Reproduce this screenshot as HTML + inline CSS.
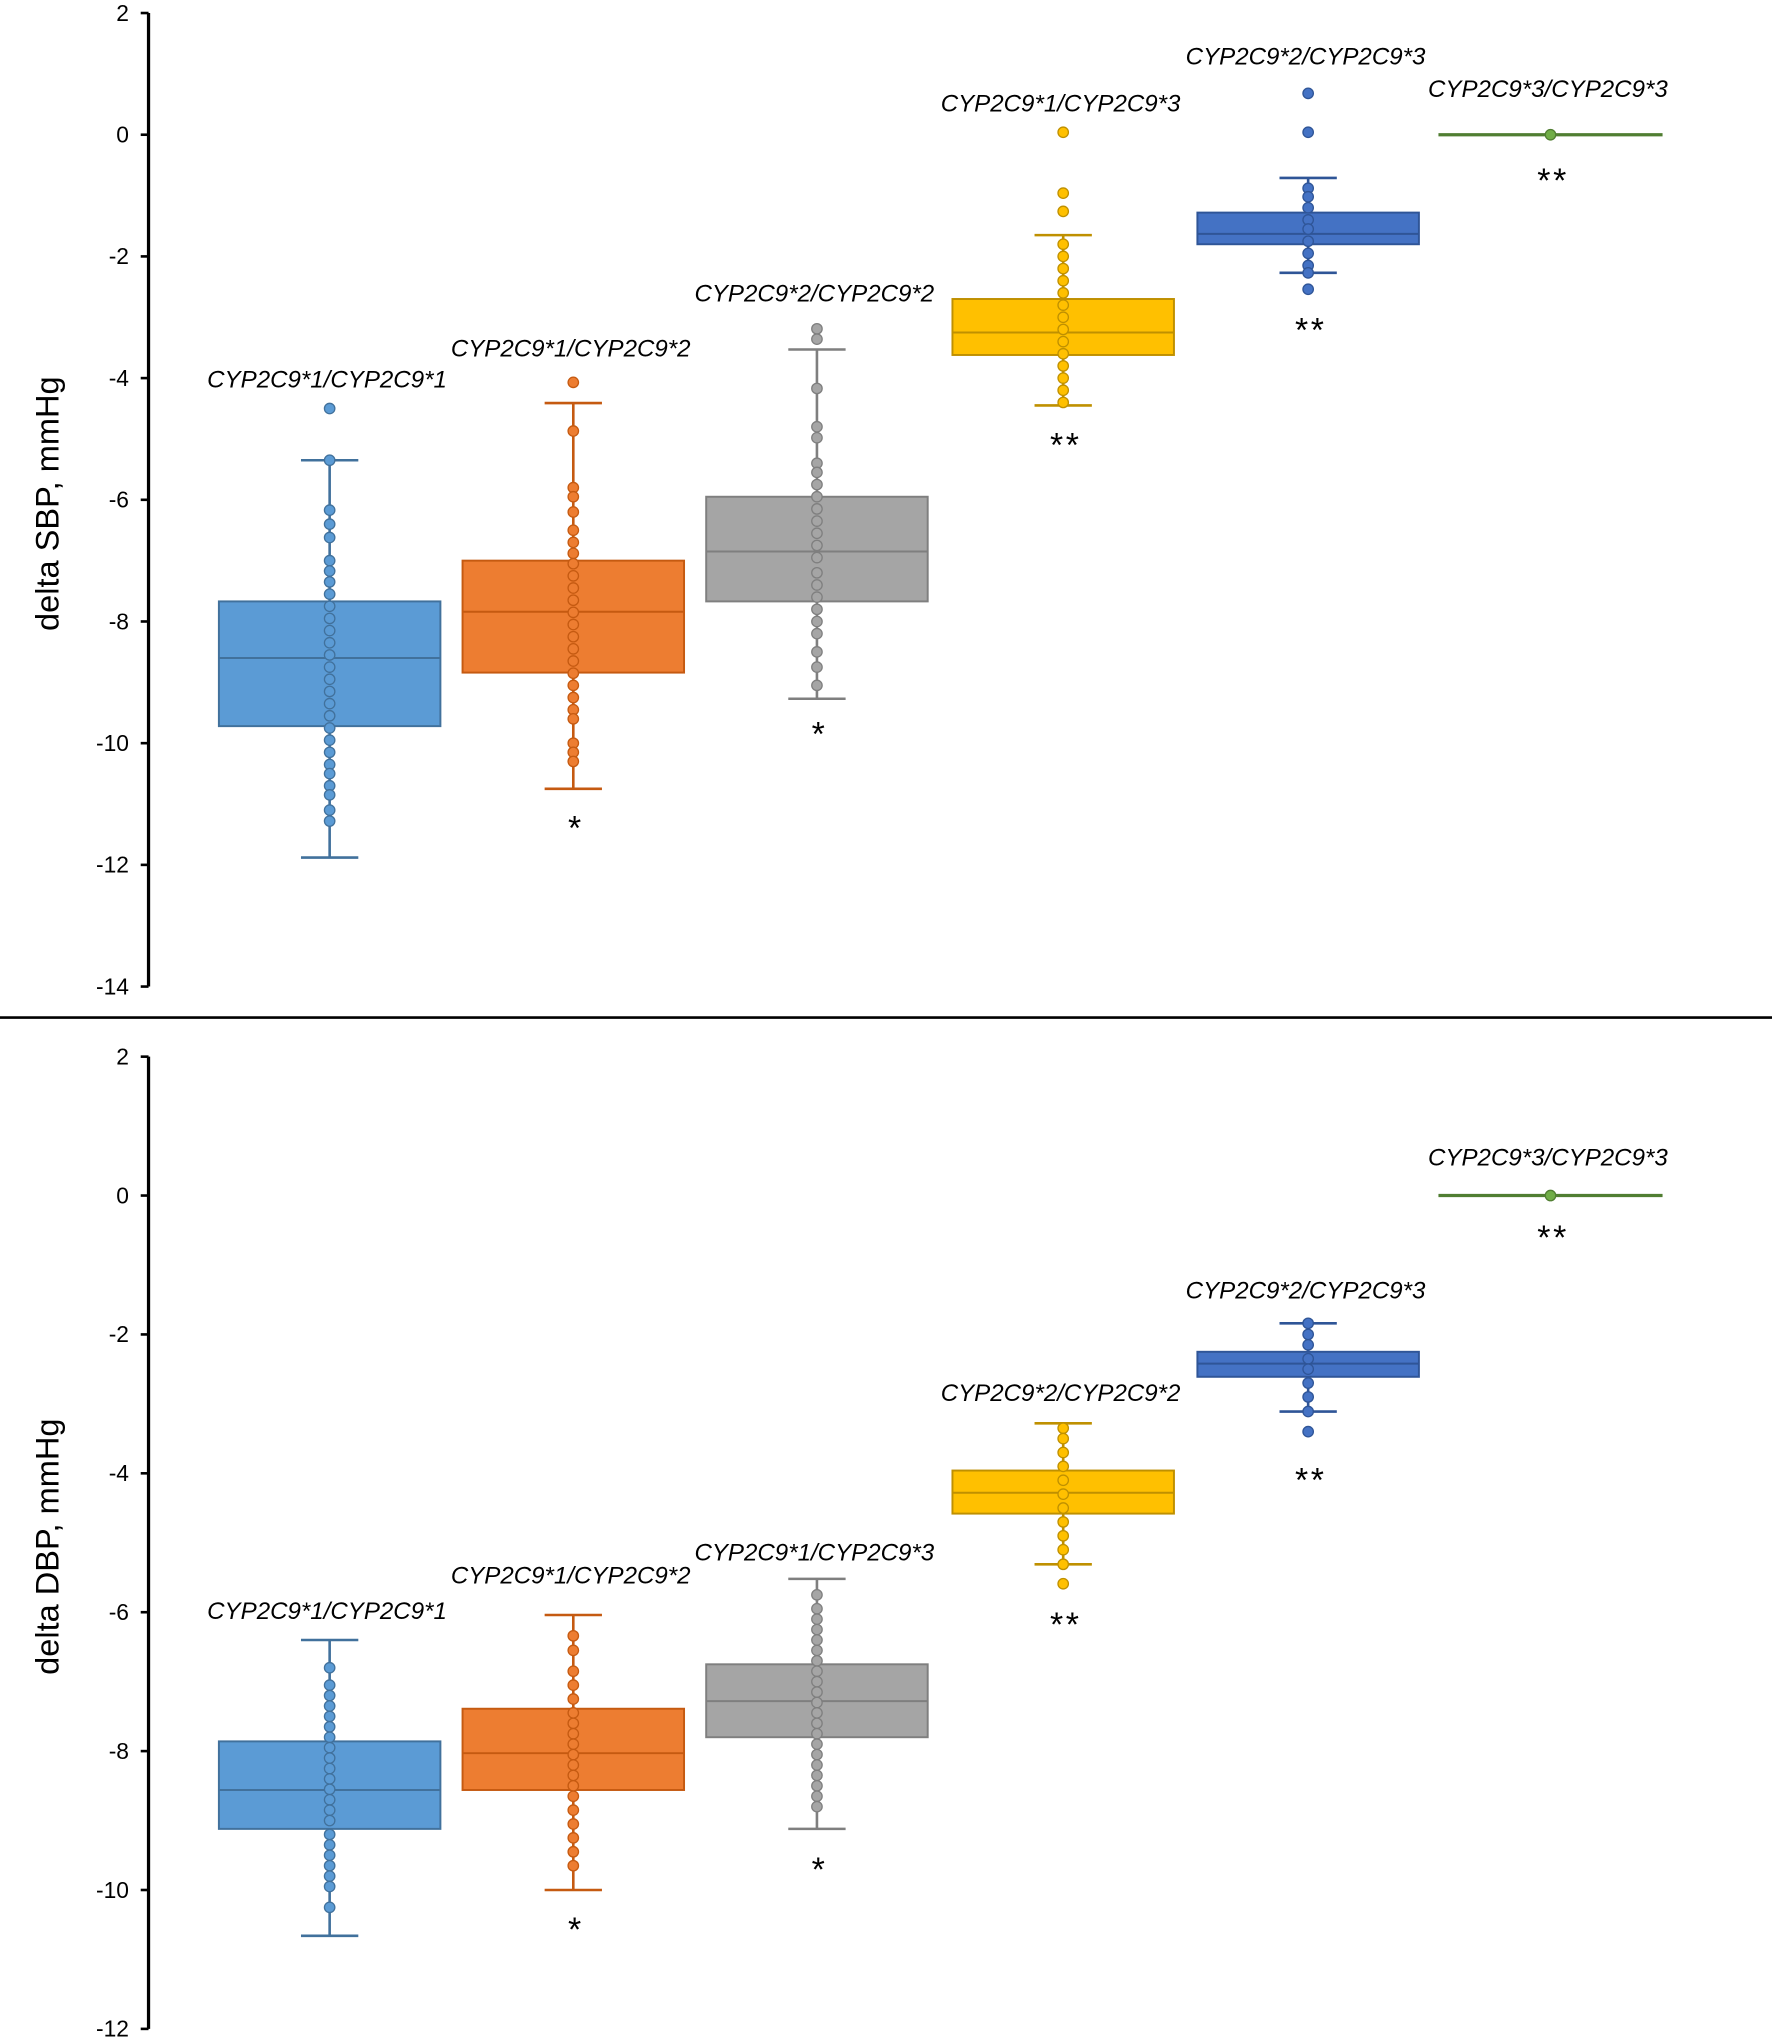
<!DOCTYPE html>
<html><head><meta charset="utf-8"><style>
html,body{margin:0;padding:0;background:#fff;}
svg{display:block;}
text{font-family:"Liberation Sans",sans-serif;}
</style></head>
<body>
<svg id="chart" width="1772" height="2041" viewBox="0 0 1360 1566.5" preserveAspectRatio="none" xmlns="http://www.w3.org/2000/svg">
<line x1="0" y1="781" x2="1360" y2="781" stroke="#000" stroke-width="2"/>
</svg>
<script>
const categoryCenters = [253, 440, 627, 816, 1004, 1190];
const colors = ['#5B9BD5','#ED7D31','#A5A5A5','#FFC000','#4472C4','#70AD47'];
const strokes = ['#41719C','#C55A11','#7F7F7F','#BF9000','#2F5597','#507E32'];

// SBP panel data
const sbpLabels = ['CYP2C9*1/CYP2C9*1','CYP2C9*1/CYP2C9*2','CYP2C9*2/CYP2C9*2','CYP2C9*1/CYP2C9*3','CYP2C9*2/CYP2C9*3','CYP2C9*3/CYP2C9*3'];
const sbpQ1 = [-9.72,-8.84,-7.67,-3.62,-1.8,-0.02];
const sbpMedian = [-8.6,-7.84,-6.85,-3.25,-1.63,0];
const sbpQ3 = [-7.67,-7.0,-5.95,-2.7,-1.28,0.02];
const sbpWhiskerLow = [-11.88,-10.75,-9.27,-4.45,-2.27,0];
const sbpWhiskerHigh = [-5.35,-4.41,-3.53,-1.65,-0.71,0];
const sbpStars = ['','*','*','**','**','**'];
const sbpPoints = [
 [-4.5,-5.35,-6.17,-6.4,-6.62,-7.0,-7.17,-7.35,-7.55,-7.75,-7.95,-8.15,-8.35,-8.55,-8.75,-8.95,-9.15,-9.35,-9.55,-9.75,-9.95,-10.15,-10.35,-10.5,-10.7,-10.85,-11.1,-11.28],
 [-4.07,-4.87,-5.8,-5.95,-6.2,-6.5,-6.7,-6.88,-7.05,-7.25,-7.45,-7.65,-7.85,-8.05,-8.25,-8.45,-8.65,-8.85,-9.05,-9.25,-9.45,-9.6,-10.0,-10.15,-10.3],
 [-3.19,-3.36,-4.17,-4.8,-4.98,-5.4,-5.55,-5.75,-5.95,-6.15,-6.35,-6.55,-6.75,-6.95,-7.2,-7.4,-7.6,-7.8,-8.0,-8.2,-8.5,-8.75,-9.05],
 [0.04,-0.96,-1.26,-1.8,-2.0,-2.2,-2.4,-2.6,-2.8,-3.0,-3.2,-3.4,-3.6,-3.8,-4.0,-4.2,-4.4],
 [0.68,0.04,-0.88,-1.02,-1.2,-1.4,-1.55,-1.75,-1.95,-2.15,-2.27,-2.54],
 [0]
];

// DBP panel data
const dbpLabels = ['CYP2C9*1/CYP2C9*1','CYP2C9*1/CYP2C9*2','CYP2C9*1/CYP2C9*3','CYP2C9*2/CYP2C9*2','CYP2C9*2/CYP2C9*3','CYP2C9*3/CYP2C9*3'];
const dbpQ1 = [-9.12,-8.56,-7.8,-4.58,-2.61,-0.01];
const dbpMedian = [-8.56,-8.03,-7.28,-4.28,-2.42,0];
const dbpQ3 = [-7.86,-7.39,-6.75,-3.96,-2.25,0.01];
const dbpWhiskerLow = [-10.66,-10.0,-9.12,-5.31,-3.11,0];
const dbpWhiskerHigh = [-6.4,-6.04,-5.52,-3.28,-1.84,0];
const dbpStars = ['','*','*','**','**','**'];
const dbpPoints = [
 [-6.8,-7.05,-7.2,-7.35,-7.5,-7.65,-7.8,-7.95,-8.1,-8.25,-8.4,-8.55,-8.7,-8.85,-9.0,-9.2,-9.35,-9.5,-9.65,-9.8,-9.95,-10.25],
 [-6.34,-6.55,-6.85,-7.05,-7.25,-7.45,-7.6,-7.75,-7.9,-8.05,-8.2,-8.35,-8.5,-8.65,-8.85,-9.05,-9.25,-9.45,-9.65],
 [-5.75,-5.95,-6.1,-6.25,-6.4,-6.55,-6.7,-6.85,-7.0,-7.15,-7.3,-7.45,-7.6,-7.75,-7.9,-8.05,-8.2,-8.35,-8.5,-8.65,-8.8],
 [-3.35,-3.5,-3.7,-3.9,-4.1,-4.3,-4.5,-4.7,-4.9,-5.1,-5.31,-5.59],
 [-1.84,-2.0,-2.15,-2.35,-2.5,-2.7,-2.9,-3.11,-3.4],
 [0]
];

const sbpTicks = [2,0,-2,-4,-6,-8,-10,-12,-14];
const dbpTicks = [2,0,-2,-4,-6,-8,-10,-12];

const NS = 'http://www.w3.org/2000/svg';
const svg = document.getElementById('chart');
function mk(tag, attrs, parent){const e=document.createElementNS(NS,tag);for(const k in attrs)e.setAttribute(k,attrs[k]);(parent||svg).appendChild(e);return e;}

function panel(cfg){
  const y = v => cfg.y0 + (cfg.vmax - v) * cfg.pxPerUnit;
  const g = mk('g',{});
  
  
  const ax = mk('line',{x1:114,x2:114,y1:y(cfg.ticks[0]),y2:y(cfg.ticks[cfg.ticks.length-1]),stroke:'#000','stroke-width':2.5},g);
  
  
  cfg.ticks.forEach(t=>{
    const tk = mk('line',{x1:108,x2:114,y1:y(t),y2:y(t),stroke:'#000','stroke-width':2},g);
    
    
    const tl = mk('text',{x:99,y:y(t)+6,'text-anchor':'end','font-size':17.5,fill:'#000'},g);
    tl.textContent = t;
    
    
  });
  const mid = (y(cfg.ticks[0])+y(cfg.ticks[cfg.ticks.length-1]))/2;
  const tt = mk('text',{x:0,y:0,'text-anchor':'middle','font-size':25,fill:'#000',transform:`translate(45,${mid+3}) rotate(-90)`},g);
  tt.textContent = cfg.title;
  
  
  const hw = 85;
  categoryCenters.forEach((cx,i)=>{
    const bg = mk('g',{},g);
    
    
    const c = colors[i], s = strokes[i];
    if(i===5){
      mk('line',{x1:cx-86,x2:cx+86,y1:y(0),y2:y(0),stroke:s,'stroke-width':2.5},bg);
    }else{
      mk('line',{x1:cx,x2:cx,y1:y(cfg.wh[i]),y2:y(cfg.wl[i]),stroke:s,'stroke-width':2},bg);
      mk('line',{x1:cx-22,x2:cx+22,y1:y(cfg.wh[i]),y2:y(cfg.wh[i]),stroke:s,'stroke-width':2},bg);
      mk('line',{x1:cx-22,x2:cx+22,y1:y(cfg.wl[i]),y2:y(cfg.wl[i]),stroke:s,'stroke-width':2},bg);
      mk('rect',{x:cx-hw,y:y(cfg.q3[i]),width:hw*2,height:y(cfg.q1[i])-y(cfg.q3[i]),fill:c,stroke:s,'stroke-width':1.5},bg);
      mk('line',{x1:cx-hw,x2:cx+hw,y1:y(cfg.med[i]),y2:y(cfg.med[i]),stroke:s,'stroke-width':1.5},bg);
    }
    cfg.points[i].forEach(v=>{
      const p = mk('circle',{cx:cx,cy:y(v),r:4,fill:c,stroke:s,'stroke-width':1},bg);
      
      
    });
    const lbl = mk('text',{x:cx-2,y:y(Math.max(...cfg.points[i], cfg.wh[i]))-cfg.labelGap[i],'text-anchor':'middle','font-size':18.5,'font-style':'italic',fill:'#000'},bg);
    lbl.textContent = cfg.labels[i];
    
    
    if(cfg.stars[i]){
      const lowV = Math.min(...cfg.points[i], cfg.wl[i]);
      const st = mk('text',{x:cx+2,y:y(lowV)+cfg.starGap[i],'text-anchor':'middle','font-size':26,'letter-spacing':'2',fill:'#000'},bg);
      st.textContent = cfg.stars[i];
      
      
    }
  });
}

panel({name:'sbp-panel',title:'delta SBP, mmHg',y0:10,vmax:2,pxPerUnit:46.7,ticks:sbpTicks,labels:sbpLabels,
  q1:sbpQ1,med:sbpMedian,q3:sbpQ3,wl:sbpWhiskerLow,wh:sbpWhiskerHigh,stars:sbpStars,points:sbpPoints,
  labelGap:[16,20,21,16,22,29],starGap:[0,39,36,39,40,44]});
panel({name:'dbp-panel',title:'delta DBP, mmHg',y0:811,vmax:2,pxPerUnit:53.3,ticks:dbpTicks,labels:dbpLabels,
  q1:dbpQ1,med:dbpMedian,q3:dbpQ3,wl:dbpWhiskerLow,wh:dbpWhiskerHigh,stars:dbpStars,points:dbpPoints,
  labelGap:[16,24,14,17,19,23],starGap:[0,39,40,40,46,41]});
</script>
</body></html>
